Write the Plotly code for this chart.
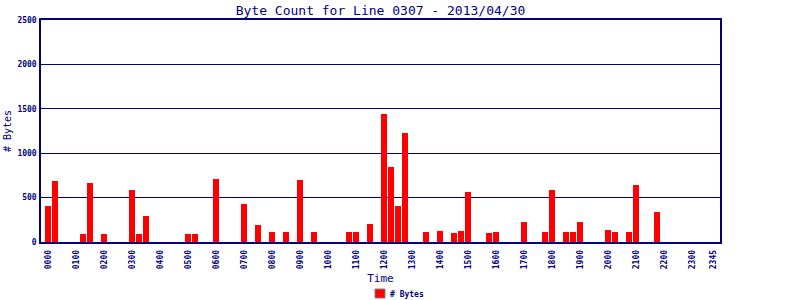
import plotly.graph_objects as go

# 15-minute slots over the day
slot_labels = [f"{h:02d}{m:02d}" for h in range(24) for m in (0, 15, 30, 45)]

# nonzero byte counts by slot index
bar_slots = [0, 1, 5, 6, 8, 12, 13, 14, 20, 21, 24, 28, 30, 32, 34, 36, 38, 43, 44, 46,
             48, 49, 50, 51, 54, 56, 58, 59, 60, 63, 64, 68, 71, 72, 74, 75, 76, 80, 81, 83, 84, 87]
bar_values = [400, 690, 95, 660, 95, 590, 95, 297, 85, 95, 714, 432, 196, 117, 117, 703, 117, 117, 117, 207,
              1447, 850, 410, 1233, 117, 128, 105, 128, 568, 105, 117, 229, 117, 590, 117, 117, 229, 139, 117, 117, 647, 342]

bytes_by_slot = [0] * 96
for s, v in zip(bar_slots, bar_values):
    bytes_by_slot[s] = v

tick_slots = [0, 4, 8, 12, 16, 20, 24, 28, 32, 36, 40, 44, 48, 52, 56, 60, 64, 68, 72, 76, 80, 84, 88, 92, 95]
tick_text = [slot_labels[i] for i in tick_slots]

y_ticks = [0, 500, 1000, 1500, 2000, 2500]

NAVY = "#000080"
FONT = "DejaVu Sans Mono"

fig = go.Figure()
fig.add_trace(go.Bar(
    x=list(range(96)), y=bytes_by_slot, name="# Bytes",
    marker=dict(color="#FF0000", line=dict(width=0)),
    width=0.86, showlegend=False,
))

fig.update_layout(
    width=800, height=300,
    margin=dict(l=41, r=80, t=20, b=58, autoexpand=False),
    paper_bgcolor="white", plot_bgcolor="white",
    title=dict(text="Byte Count for Line 0307 - 2013/04/30", x=(41 + 720) / 2 / 800, xanchor="center",
               y=1 - 10 / 300, yanchor="middle", font=dict(family=FONT, size=13, color=NAVY)),
    font=dict(family=FONT, color=NAVY),
    xaxis=dict(range=[-1, 96], tickvals=tick_slots, ticktext=tick_text, tickangle=-90,
               tickfont=dict(family=FONT, size=8, color=NAVY, weight="bold"),
               showgrid=False, showline=True, linecolor=NAVY, linewidth=1.5, mirror=True,
               ticks="outside", ticklen=3, tickcolor="white", zeroline=False, automargin=False,
               title=dict(text="Time", font=dict(family=FONT, size=11, color=NAVY), standoff=6)),
    yaxis=dict(range=[0, 2500], tickvals=y_ticks, ticktext=[str(v) for v in y_ticks],
               tickfont=dict(family=FONT, size=8, color=NAVY, weight="bold"),
               showgrid=True, gridcolor=NAVY, gridwidth=1,
               showline=True, linecolor=NAVY, linewidth=1.5, mirror=True,
               ticks="outside", ticklen=1, tickcolor="white", zeroline=False, automargin=False,
               title=dict(text="# Bytes", font=dict(family=FONT, size=10, color=NAVY), standoff=4)),
    bargap=0,
    showlegend=False,
)

# legend drawn as a key box plus its label
fig.add_shape(type="rect", xref="paper", yref="paper",
              x0=(375 - 41) / 679, x1=(385 - 41) / 679,
              y0=-(298 - 242) / 222, y1=-(289 - 242) / 222,
              fillcolor="#FF0000", line=dict(color="#808080", width=1))
fig.add_annotation(text="# Bytes", xref="paper", yref="paper",
                   x=(388 - 41) / 679, xanchor="left", y=-(294 - 242) / 222, yanchor="middle",
                   showarrow=False, font=dict(family=FONT, size=8, color=NAVY, weight="bold"))

fig.write_html("out.html")
